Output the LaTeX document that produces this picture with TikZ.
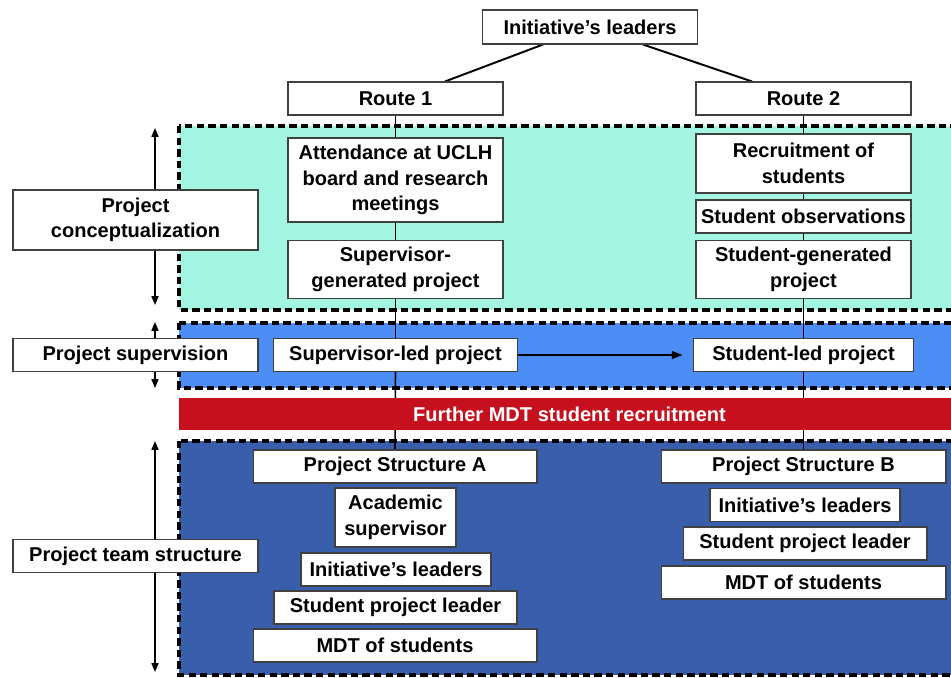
\documentclass[tikz,border=0pt]{standalone}
\usepackage{fontspec}
\setmainfont{Liberation Sans}
\usetikzlibrary{arrows.meta}
\pgfdeclarelayer{background}
\pgfsetlayers{background,main}

\definecolor{teal}{RGB}{162,246,226}
\definecolor{midblue}{RGB}{76,142,246}
\definecolor{deepblue}{RGB}{57,95,172}
\definecolor{barred}{RGB}{198,16,30}

\begin{document}
\begin{tikzpicture}[x=0.02cm,y=-0.02cm,
                    font={\fontsize{11.4}{14.5}\selectfont\bfseries},
                    box/.style={draw=black!75,line width=0.6pt,fill=white,inner sep=0pt,align=center,minimum height=0.66cm},
                    tag/.style={box,minimum width=4.9cm},
                    zone/.style={line width=1.9pt,dash pattern=on 4.2pt off 2.4pt},
                    link/.style={line width=0.9pt},
                    span/.style={{Triangle[length=5pt,width=4pt]}-{Triangle[length=5pt,width=4pt]},line width=0.8pt}]
    \clip (0,0) rectangle (951,677);
    \useasboundingbox (0,0) rectangle (951,677);

    % top of the tree
    \node[box,minimum width=4.3cm,minimum height=0.68cm] (leaders) at (590,27) {Initiative's leaders};
    \node[box,minimum width=4.3cm] (route1) at (395.5,98.5) {Route 1};
    \node[box,minimum width=4.3cm] (route2) at (803.5,98.5) {Route 2};

    % route 1 column
    \node[box,minimum width=4.3cm,minimum height=1.68cm] (attend) at (395.5,180) {Attendance at UCLH\\board and research\\meetings};
    \node[box,minimum width=4.3cm,minimum height=1.16cm] (supgen) at (395.5,269.5) {Supervisor-\\generated project};
    \node[box,minimum width=4.88cm] (supled) at (395.5,355) {Supervisor-led project};

    % route 2 column
    \node[box,minimum width=4.3cm,minimum height=1.18cm] (recruit) at (803.5,163.5) {Recruitment of\\students};
    \node[box,minimum width=4.3cm] (observ) at (803.5,216.5) {Student observations};
    \node[box,minimum width=4.3cm,minimum height=1.16cm] (stugen) at (803.5,269.5) {Student-generated\\project};
    \node[box,minimum width=4.4cm] (stuled) at (803.5,355) {Student-led project};

    % structure A
    \node[box,minimum width=5.68cm] (structA) at (395,466.5) {Project Structure A};
    \node[box,minimum width=2.42cm,minimum height=1.18cm] (academic) at (395.5,517.5) {Academic\\supervisor};
    \node[box,minimum width=3.8cm] (initA) at (396,569.5) {Initiative's leaders};
    \node[box,minimum width=4.86cm] (leaderA) at (395.5,607.5) {Student project leader};
    \node[box,minimum width=5.68cm] (mdtA) at (395,645.5) {MDT of students};

    % structure B
    \node[box,minimum width=5.7cm] (structB) at (803.5,466.5) {Project Structure B};
    \node[box,minimum width=3.8cm] (initB) at (805,505) {Initiative's leaders};
    \node[box,minimum width=4.88cm] (leaderB) at (805,543.5) {Student project leader};
    \node[box,minimum width=5.7cm] (mdtB) at (803.5,582.5) {MDT of students};

    % phase labels on the left
    \node[tag,minimum height=1.2cm] (concept) at (135.5,220) {Project\\conceptualization};
    \node[tag] (supervision) at (135.5,355) {Project supervision};
    \node[tag] (team) at (135.5,556) {Project team structure};

    \coordinate (concepttop) at (155,128);
    \coordinate (conceptbot) at (155,305);
    \coordinate (supertop) at (155,322);
    \coordinate (superbot) at (155,388);
    \coordinate (teamtop) at (155,441);
    \coordinate (teambot) at (155,672);

    % recruitment bar
    \node[fill=barred,text=white,minimum width=15.62cm,minimum height=0.64cm,inner sep=0pt] (recruitbar) at (569.5,414) {Further MDT student recruitment};

    \begin{pgfonlayer}{background}
        \fill[teal] (179,126) rectangle (970,310);
        \fill[midblue] (179,323) rectangle (970,388);
        \fill[deepblue] (179,441) rectangle (970,675);
        \draw[zone] (179,126) rectangle (970,310);
        \draw[zone] (179,323) rectangle (970,388);
        \draw[zone] (179,441) rectangle (970,675);

        \draw[link,line width=1.1pt] (leaders.south -| 543,0) -- (route1.north -| 445,0);
        \draw[link,line width=1.1pt] (leaders.south -| 643,0) -- (route2.north -| 752,0);

        \draw[link] (route1.south) -- (attend.north);
        \draw[link] (attend.south) -- (supgen.north);
        \draw[link] (supgen.south) -- (supled.north);
        \draw[link] (supled.south) -- (structA.north);

        \draw[link] (route2.south) -- (recruit.north);
        \draw[link] (recruit.south) -- (observ.north);
        \draw[link] (observ.south) -- (stugen.north);
        \draw[link] (stugen.south) -- (stuled.north);
        \draw[link] (stuled.south) -- (structB.north);

        \draw[span] (concepttop) -- (conceptbot);
        \draw[span] (supertop) -- (superbot);
        \draw[span] (teamtop) -- (teambot);
    \end{pgfonlayer}

    \draw[link,-{Triangle[length=6pt,width=4.5pt]},shorten >=6pt] (supled.east) -- (stuled.west);
\end{tikzpicture}
\end{document}
